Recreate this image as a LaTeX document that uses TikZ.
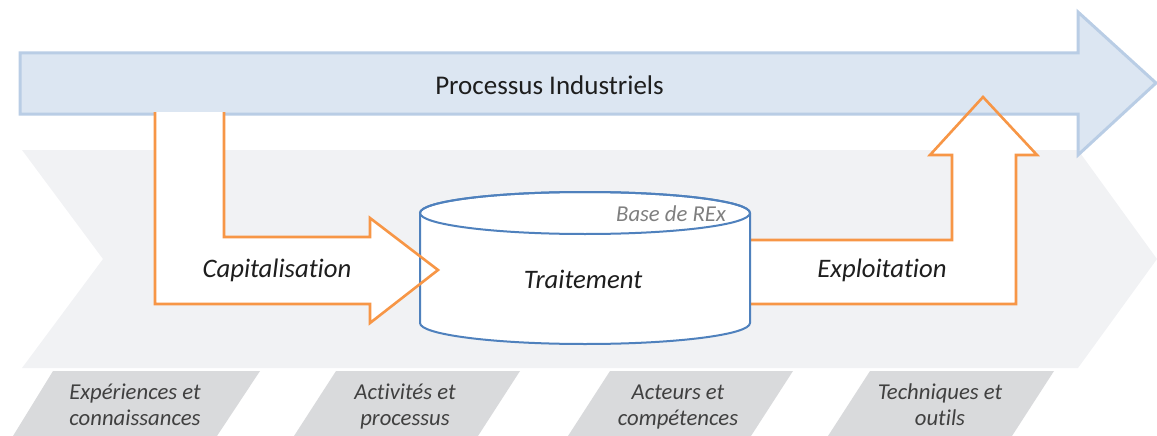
\documentclass[tikz,border=0pt]{standalone}
\usepackage{fontspec}
\setmainfont{Carlito}[Ligatures={NoCommon}]
\definecolor{chevgray}{HTML}{F1F2F4}
\definecolor{paragray}{HTML}{D9DADC}
\definecolor{arrowfill}{HTML}{DCE6F2}
\definecolor{arrowline}{HTML}{B9CDE5}
\definecolor{orangeline}{HTML}{F79646}
\definecolor{cylline}{HTML}{4F81BD}
\definecolor{darktext}{HTML}{1E1E1E}
\definecolor{labeltext}{HTML}{404040}
\definecolor{basetext}{HTML}{7F7F7F}
\tikzset{
  chevron/.style={fill=chevgray},
  paraband/.style={fill=paragray},
  bigarrow/.style={fill=arrowfill, draw=arrowline, line width=3pt, line join=miter},
  orangefill/.style={fill=white},
  orangestroke/.style={draw=orangeline, line width=2.6pt, line join=miter},
  cylbody/.style={fill=white, draw=cylline, line width=2pt},
  titletext/.style={font=\fontsize{27}{32}\selectfont, text=darktext, anchor=base, inner sep=0pt},
  stagetext/.style={font=\fontsize{26.7}{32}\selectfont\itshape, text=darktext, anchor=base, inner sep=0pt},
  basetxt/.style={font=\fontsize{22.7}{27}\selectfont\itshape, text=basetext, anchor=base, inner sep=0pt},
  bandtext/.style={font=\fontsize{22.7}{26}\selectfont\itshape, text=labeltext, anchor=base, inner sep=0pt, align=center}
}
\begin{document}
\begin{tikzpicture}[x=1pt,y=-1pt]
\useasboundingbox (0,0) rectangle (1157,436);
% background chevron
\fill[chevron] (22,150) -- (1078,150) -- (1157,259) -- (1078,368) -- (22,368) -- (103,259) -- cycle;
% bottom bands
\fill[paraband] (53,371) -- (260,371) -- (217,436) -- (13,436) -- cycle;
\fill[paraband] (336,371) -- (520,371) -- (478,436) -- (294,436) -- cycle;
\fill[paraband] (610,371) -- (793,371) -- (751,436) -- (568,436) -- cycle;
\fill[paraband] (870,371) -- (1054,371) -- (1012,436) -- (828,436) -- cycle;
% exploitation arrow fill (under the big arrow)
\fill[orangefill] (750,240) -- (952,240) -- (952,155) -- (930,155) -- (983,97) -- (1037,155) -- (1016,155) -- (1016,304) -- (750,304) -- cycle;
% big process arrow
\path[bigarrow] (20,53) -- (1078,53) -- (1078,12) -- (1156,83) -- (1078,155) -- (1078,114) -- (20,114) -- cycle;
% exploitation arrow outline
\path[orangestroke] (750,240) -- (952,240) -- (952,155) -- (930,155) -- (983,97) -- (1037,155) -- (1016,155) -- (1016,304) -- (750,304);
% capitalisation arrow fill
\fill[orangefill] (155,112) -- (155,304) -- (370,304) -- (370,323) -- (438,270) -- (370,218) -- (370,237) -- (224,237) -- (224,112) -- cycle;
% cylinder
\path[cylbody] (420,213) -- (420,323) arc[start angle=180, end angle=0, x radius=165, y radius=21] -- (750,213) arc[start angle=0, end angle=-180, x radius=165, y radius=21] -- cycle;
\draw[cylline, line width=2pt] (585,213) ellipse[x radius=165, y radius=21];
% capitalisation arrow outline (over the cylinder)
\path[orangestroke] (155,112) -- (155,304) -- (370,304) -- (370,323) -- (438,270) -- (370,218) -- (370,237) -- (224,237) -- (224,112);
% texts
\node[titletext] (proc) at (549.5,95) {Processus Industriels};
\node[stagetext] (cap) at (277,277) {Capitalisation};
\node[stagetext] (trait) at (583,288) {Traitement};
\node[stagetext] (expl) at (882,277) {Exploitation};
\node[basetxt] (base) at (671,221) {Base de REx};
\node[bandtext] (b1) at (135,425) {Expériences et\\connaissances};
\node[bandtext] (b2) at (405,425) {Activités et\\processus};
\node[bandtext] (b3) at (678,425) {Acteurs et\\compétences};
\node[bandtext] (b4) at (940,425) {Techniques et\\outils};
\end{tikzpicture}
\end{document}
